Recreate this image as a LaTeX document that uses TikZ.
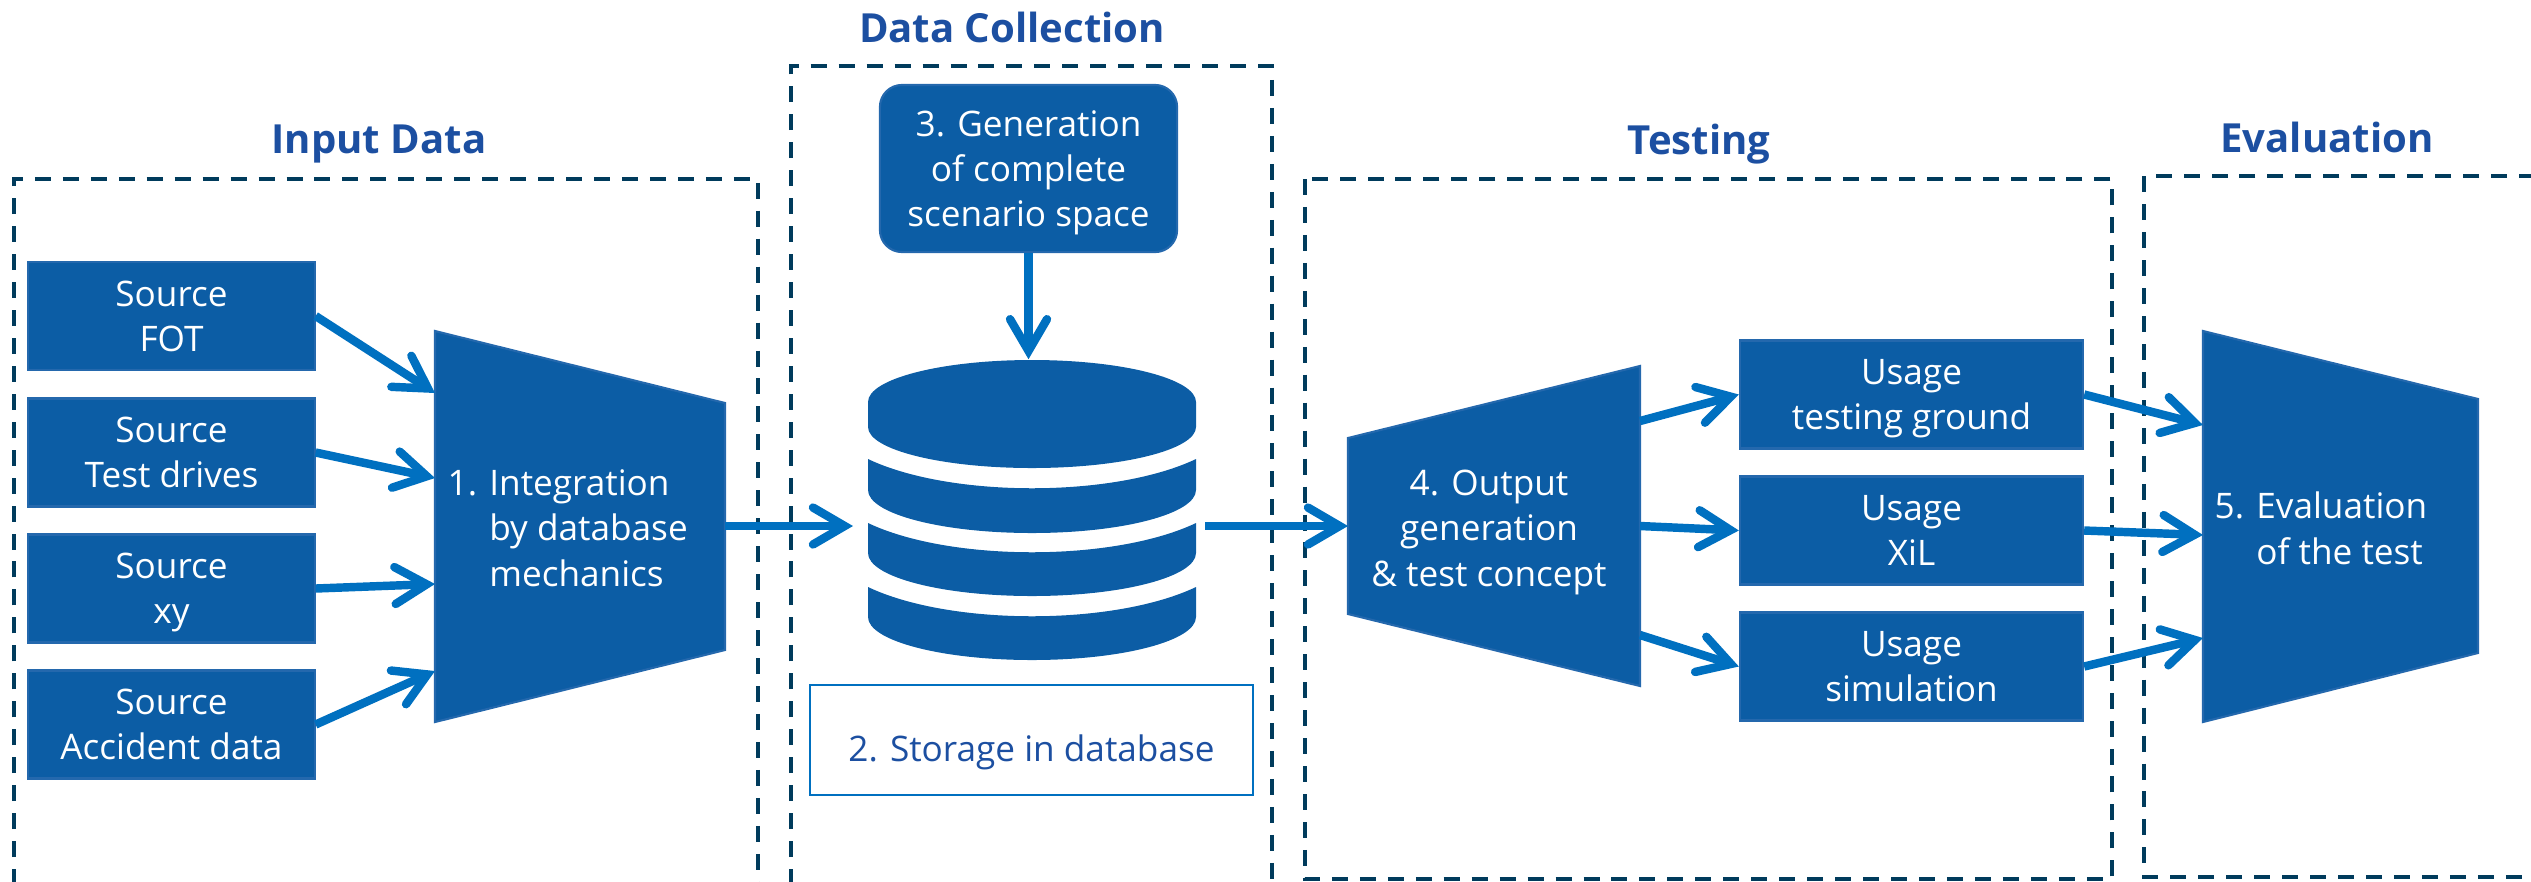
\documentclass[tikz,border=0pt]{standalone}
\usepackage{fontspec}
\setmainfont{Open Sans}
\usetikzlibrary{positioning}
\usetikzlibrary{calc}
\usetikzlibrary{arrows.meta}
\definecolor{boxblue}{HTML}{0C5DA5}
\definecolor{edgeblue}{HTML}{2468AD}
\definecolor{arrowblue}{HTML}{0070C0}
\definecolor{titleblue}{HTML}{1C4FA1}
\definecolor{dashblue}{HTML}{003B5C}
\tikzset{block/.style={fill=boxblue,draw=edgeblue,line width=0.6pt,text=white,align=center,inner sep=0pt,text depth=0pt,font=\fontsize{10}{12.9}\selectfont}}
\tikzset{srcbox/.style={block,minimum width=2.86cm,minimum height=1.08cm}}
\tikzset{usebox/.style={block,minimum width=3.43cm,minimum height=1.08cm}}
\tikzset{hull/.style={fill=boxblue,draw=edgeblue,line width=0.6pt}}
\tikzset{hulltext/.style={text=white,align=left,inner sep=0pt,text depth=0pt,font=\fontsize{10}{12.9}\selectfont}}
\tikzset{area/.style={draw=dashblue,line width=1.1pt,dash pattern=on 4.55pt off 3.4pt}}
\tikzset{heading/.style={text=titleblue,inner sep=0pt,text height=8pt,text depth=0pt,font=\fontsize{11.4}{13}\selectfont\bfseries}}
\tikzset{conn/.style={draw=arrowblue,line width=2.4pt,-{Straight Barb[length=9pt,width=10.5pt,line cap=round]}}}

\begin{document}
\begin{tikzpicture}[x=0.01cm,y=-0.01cm]
\useasboundingbox (0,0) rectangle (2531,881);

% dashed areas
\draw[area] (14,885) -- (14,179) -- (758,179) -- (758,885);
\draw[area] (791,885) -- (791,66) -- (1272,66) -- (1272,885);
\draw[area] (1305,179) rectangle (2112,879);
\draw[area] (2535,176) -- (2144,176) -- (2144,877) -- (2535,877);

\node[heading] (tinput) at (379,139) {Input Data};
\node[heading] (tcollect) at (1012,28) {Data Collection};
\node[heading] (ttest) at (1699,140) {Testing};
\node[heading] (teval) at (2327,138) {Evaluation};

% sources
\node[srcbox] (fot) at (171.5,316) {Source\\FOT};
\node[srcbox] (drives) at (171.5,452.5) {Source\\Test drives};
\node[srcbox] (xy) at (171.5,588.5) {Source\\xy};
\node[srcbox] (accident) at (171.5,724.5) {Source\\Accident data};

% step 1
\draw[hull] (435,331) -- (725,403) -- (725,650) -- (435,722) -- cycle;
\node[hulltext,anchor=west] (integ) at (447,528) {1. Integration\\\hphantom{1. }by database\\\hphantom{1. }mechanics};
\coordinate (ifot) at (435,393);
\coordinate (idrives) at (435,478);
\coordinate (ixy) at (435,584);
\coordinate (iacc) at (435,671);
\coordinate (iout) at (725,526);

% database
\fill[boxblue] (868,402) arc[start angle=180,end angle=360,x radius=164,y radius=42] -- (1196,427) arc[start angle=0,end angle=180,x radius=164,y radius=41] -- cycle;
\foreach \ya/\yc/\yb in {459/498/490,523/562/553,587/626/617}
  \fill[boxblue] (868,\ya) .. controls (950,\yc) and (1114,\yc) .. (1196,\ya) -- (1196,\yb) arc[start angle=0,end angle=180,x radius=164,y radius=43] -- cycle;
\node[minimum width=3.28cm,minimum height=3cm,inner sep=0pt] (db) at (1032,510) {};
\coordinate (dbin) at (853,526);
\coordinate (dbout) at (1205,526);

% steps 2 and 3
\node[draw=arrowblue,line width=0.6pt,text=titleblue,inner sep=0pt,minimum width=4.43cm,minimum height=1.1cm,text height=12pt,text depth=0pt,font=\fontsize{10}{12.9}\selectfont] (store) at (1031.5,740) {2. Storage in database};
\node[block,rounded corners=0.22cm,minimum width=2.97cm,minimum height=1.67cm] (gen) at (1028.5,168.5) {3. Generation\\of complete\\scenario space};

% step 4
\draw[hull] (1348,438) -- (1640,366) -- (1640,686) -- (1348,614) -- cycle;
\node[hulltext,align=center] (output) at (1489,528) {4. Output\\generation\\\& test concept};
\coordinate (oin) at (1348,526);
\coordinate (otop) at (1640,421);
\coordinate (omid) at (1640,526);
\coordinate (olow) at (1640,635);

% usages
\node[usebox] (ground) at (1911.5,394.5) {Usage\\testing ground};
\node[usebox] (xil) at (1911.5,530.5) {Usage\\XiL};
\node[usebox] (sim) at (1911.5,666.5) {Usage\\simulation};

% step 5
\draw[hull] (2203,331) -- (2478,399) -- (2478,653) -- (2203,722) -- cycle;
\node[hulltext,anchor=west] (evaltext) at (2214,528) {5. Evaluation\\\hphantom{5. }of the test};
\coordinate (etop) at (2203,425);
\coordinate (emid) at (2203,535);
\coordinate (elow) at (2203,638);

% connectors
\draw[conn] (fot.east) -- (ifot);
\draw[conn] (drives.east) -- (idrives);
\draw[conn] (xy.east) -- (ixy);
\draw[conn] (accident.east) -- (iacc);
\draw[conn] (iout) -- (dbin);
\draw[conn] (gen.south) -- (gen.south |- db.north);
\draw[conn] (dbout) -- (oin);
\draw[conn] (otop) -- (ground.west);
\draw[conn] (omid) -- (xil.west);
\draw[conn] (olow) -- (sim.west);
\draw[conn] (ground.east) -- (etop);
\draw[conn] (xil.east) -- (emid);
\draw[conn] (sim.east) -- (elow);
\end{tikzpicture}
\end{document}
